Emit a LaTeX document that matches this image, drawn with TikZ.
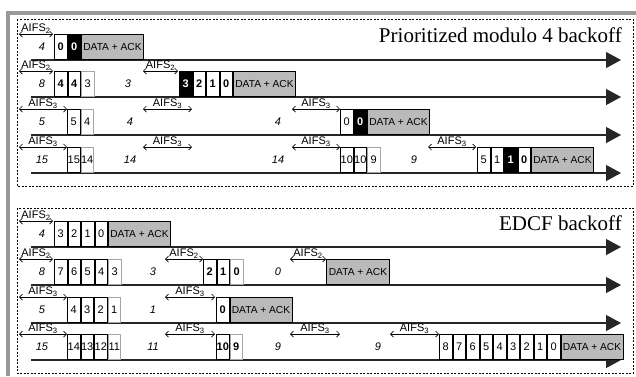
\documentclass[tikz,border=0pt]{standalone}
\usepackage{fontspec}
\setmainfont{Liberation Sans}
\newfontfamily\titlefont{Liberation Serif}
\usetikzlibrary{arrows.meta,positioning}

\begin{document}
\begin{tikzpicture}[x=1pt, y=-1pt,
        slot/.style={draw, line width=1pt, minimum width=12.5pt, minimum height=25pt, inner sep=0pt, anchor=south west, font=\fontsize{11}{11}\selectfont},
        idle/.style={slot, draw=black!35},
        won/.style={slot, font=\fontsize{11}{11}\selectfont\bfseries},
        idlewon/.style={won, draw=black!35},
        frozen/.style={won, fill=black, text=white},
        payload/.style={slot, fill=black!27, minimum width=62pt, font=\fontsize{10.2}{10.2}\selectfont},
        tally/.style={inner sep=0pt, font=\fontsize{11}{11}\selectfont\itshape},
        aifs/.style={{Straight Barb[length=3pt,width=6pt]}-{Straight Barb[length=3pt,width=6pt]}, line width=0.7pt},
        aifslabel/.style={above, inner sep=0.5pt, font=\fontsize{11}{11}\selectfont},
        timeline/.style={-{Triangle[length=15pt,width=16pt]}, line width=1.2pt, black!85},
        panel/.style={draw, dash pattern=on 2pt off 1.5pt, line width=0.7pt},
        paneltitle/.style={anchor=base east, inner sep=0pt, font=\titlefont\fontsize{21}{21}\selectfont}
    ]
        \useasboundingbox (0,0) rectangle (636,376);
        \draw[black!40, line width=4pt] (8,376) -- (8,13) -- (636,13);
        \draw[panel] (17,19) rectangle (633,186);
        \draw[panel] (17,208) rectangle (633,373);
        \node[paneltitle] (ptitle) at (622,42) {Prioritized modulo 4 backoff};
        \node[paneltitle] (etitle) at (622,230) {EDCF backoff};

        % time axes
        \path (31,60) coordinate (p1s) (621,60) coordinate (p1e);
        \path (31,97) coordinate (p2s) (621,97) coordinate (p2e);
        \path (31,135) coordinate (p3s) (621,135) coordinate (p3e);
        \path (31,173) coordinate (p4s) (621,173) coordinate (p4e);
        \path (31,247) coordinate (e1s) (621,247) coordinate (e1e);
        \path (31,285) coordinate (e2s) (621,285) coordinate (e2e);
        \path (31,323) coordinate (e3s) (621,323) coordinate (e3e);
        \path (31,360) coordinate (e4s) (621,360) coordinate (e4e);
        \draw[timeline] (p1s) -- (p1e);
        \draw[timeline] (p2s) -- (p2e);
        \draw[timeline] (p3s) -- (p3e);
        \draw[timeline] (p4s) -- (p4e);
        \draw[timeline] (e1s) -- (e1e);
        \draw[timeline] (e2s) -- (e2e);
        \draw[timeline] (e3s) -- (e3e);
        \draw[timeline] (e4s) -- (e4e);

        % prioritized modulo 4 backoff
        \path (19,34) coordinate (p1al) (53,34) coordinate (p1ar);
        \draw[aifs] (p1al) -- node[aifslabel] {AIFS\textsubscript{2}} (p1ar);
        \node[tally] (p1n) at (42,47) {4};
        \node[won] (p1a) at (54,60) {0};
        \node[frozen, right=0pt of p1a] (p1b) {0};
        \node[payload, right=0pt of p1b] (p1d) {DATA + ACK};

        \path (19,71) coordinate (p2al) (53,71) coordinate (p2ar);
        \draw[aifs] (p2al) -- node[aifslabel] {AIFS\textsubscript{2}} (p2ar);
        \node[tally] (p2n) at (42,84) {8};
        \node[won] (p2a) at (54,97) {4};
        \node[won, right=0pt of p2a] (p2b) {4};
        \node[idle, right=0pt of p2b] (p2c) {3};
        \node[tally] (p2m) at (128,84) {3};
        \path (143,71) coordinate (p2bl) (178,71) coordinate (p2br);
        \draw[aifs] (p2bl) -- node[aifslabel] {AIFS\textsubscript{2}} (p2br);
        \node[frozen] (p2f) at (179,97) {3};
        \node[won, right=0pt of p2f] (p2g) {2};
        \node[won, right=0pt of p2g] (p2h) {1};
        \node[won, right=0pt of p2h] (p2i) {0};
        \node[payload, right=0pt of p2i] (p2d) {DATA + ACK};

        \path (19,109) coordinate (p3al) (67,109) coordinate (p3ar);
        \draw[aifs] (p3al) -- node[aifslabel] {AIFS\textsubscript{3}} (p3ar);
        \node[tally] (p3n) at (42,122) {5};
        \node[slot] (p3a) at (67,135) {5};
        \node[idle, right=0pt of p3a] (p3b) {4};
        \node[tally] (p3m) at (130,122) {4};
        \path (143,109) coordinate (p3bl) (192,109) coordinate (p3br);
        \draw[aifs] (p3bl) -- node[aifslabel] {AIFS\textsubscript{3}} (p3br);
        \node[tally] (p3k) at (278,122) {4};
        \path (292,109) coordinate (p3cl) (340,109) coordinate (p3cr);
        \draw[aifs] (p3cl) -- node[aifslabel] {AIFS\textsubscript{3}} (p3cr);
        \node[slot] (p3f) at (340,135) {0};
        \node[frozen, right=0pt of p3f] (p3g) {0};
        \node[payload, right=0pt of p3g] (p3d) {DATA + ACK};

        \path (19,147) coordinate (p4al) (67,147) coordinate (p4ar);
        \draw[aifs] (p4al) -- node[aifslabel] {AIFS\textsubscript{3}} (p4ar);
        \node[tally] (p4n) at (42,160) {15};
        \node[slot] (p4a) at (67,173) {15};
        \node[idle, right=0pt of p4a] (p4b) {14};
        \node[tally] (p4m) at (130,160) {14};
        \path (143,147) coordinate (p4bl) (192,147) coordinate (p4br);
        \draw[aifs] (p4bl) -- node[aifslabel] {AIFS\textsubscript{3}} (p4br);
        \node[tally] (p4k) at (278,160) {14};
        \path (292,147) coordinate (p4cl) (340,147) coordinate (p4cr);
        \draw[aifs] (p4cl) -- node[aifslabel] {AIFS\textsubscript{3}} (p4cr);
        \node[slot] (p4f) at (340,173) {10};
        \node[slot, right=0pt of p4f] (p4g) {10};
        \node[idle, right=0pt of p4g] (p4h) {9};
        \node[tally] (p4j) at (414,160) {9};
        \path (428,147) coordinate (p4dl) (476,147) coordinate (p4dr);
        \draw[aifs] (p4dl) -- node[aifslabel] {AIFS\textsubscript{3}} (p4dr);
        \node[slot] (p4q) at (477,173) {5};
        \node[slot, right=0pt of p4q] (p4r) {1};
        \node[frozen, right=0pt of p4r] (p4s) {1};
        \node[won, right=0pt of p4s] (p4t) {0};
        \node[payload, right=0pt of p4t] (p4d) {DATA + ACK};

        % EDCF backoff
        \path (19,221) coordinate (e1al) (53,221) coordinate (e1ar);
        \draw[aifs] (e1al) -- node[aifslabel] {AIFS\textsubscript{2}} (e1ar);
        \node[tally] (e1n) at (42,234) {4};
        \node[slot] (e1a) at (54,247) {3};
        \node[slot, right=0pt of e1a] (e1b) {2};
        \node[slot, right=0pt of e1b] (e1c) {1};
        \node[slot, right=0pt of e1c] (e1f) {0};
        \node[payload, right=0pt of e1f] (e1d) {DATA + ACK};

        \path (19,259) coordinate (e2al) (53,259) coordinate (e2ar);
        \draw[aifs] (e2al) -- node[aifslabel] {AIFS\textsubscript{2}} (e2ar);
        \node[tally] (e2n) at (42,272) {8};
        \node[slot] (e2a) at (54,285) {7};
        \node[slot, right=0pt of e2a] (e2b) {6};
        \node[slot, right=0pt of e2b] (e2c) {5};
        \node[slot, right=0pt of e2c] (e2f) {4};
        \node[idle, right=0pt of e2f] (e2g) {3};
        \node[tally] (e2m) at (153,272) {3};
        \path (165,259) coordinate (e2bl) (203,259) coordinate (e2br);
        \draw[aifs] (e2bl) -- node[aifslabel] {AIFS\textsubscript{2}} (e2br);
        \node[won] (e2h) at (203,285) {2};
        \node[won, right=0pt of e2h] (e2i) {1};
        \node[idlewon, right=0pt of e2i] (e2j) {0};
        \node[tally] (e2k) at (278,272) {0};
        \path (290,259) coordinate (e2cl) (326,259) coordinate (e2cr);
        \draw[aifs] (e2cl) -- node[aifslabel] {AIFS\textsubscript{2}} (e2cr);
        \node[payload, minimum width=63pt] (e2d) at (326,285) {DATA + ACK};

        \path (19,297) coordinate (e3al) (67,297) coordinate (e3ar);
        \draw[aifs] (e3al) -- node[aifslabel] {AIFS\textsubscript{3}} (e3ar);
        \node[tally] (e3n) at (42,310) {5};
        \node[slot] (e3a) at (67,323) {4};
        \node[slot, right=0pt of e3a] (e3b) {3};
        \node[slot, right=0pt of e3b] (e3c) {2};
        \node[idle, right=0pt of e3c] (e3f) {1};
        \node[tally] (e3m) at (153,310) {1};
        \path (165,297) coordinate (e3bl) (215,297) coordinate (e3br);
        \draw[aifs] (e3bl) -- node[aifslabel] {AIFS\textsubscript{3}} (e3br);
        \node[won] (e3h) at (216,323) {0};
        \node[payload, right=0pt of e3h] (e3d) {DATA + ACK};

        \path (19,334) coordinate (e4al) (67,334) coordinate (e4ar);
        \draw[aifs] (e4al) -- node[aifslabel] {AIFS\textsubscript{3}} (e4ar);
        \node[tally] (e4n) at (42,347) {15};
        \node[slot] (e4a) at (67,360) {14};
        \node[slot, right=0pt of e4a] (e4b) {13};
        \node[slot, right=0pt of e4b] (e4c) {12};
        \node[idle, right=0pt of e4c] (e4f) {11};
        \node[tally] (e4m) at (153,347) {11};
        \path (165,334) coordinate (e4bl) (215,334) coordinate (e4br);
        \draw[aifs] (e4bl) -- node[aifslabel] {AIFS\textsubscript{3}} (e4br);
        \node[won] (e4h) at (216,360) {10};
        \node[idlewon, right=0pt of e4h] (e4i) {9};
        \node[tally] (e4k) at (278,347) {9};
        \path (290,334) coordinate (e4cl) (340,334) coordinate (e4cr);
        \draw[aifs] (e4cl) -- node[aifslabel] {AIFS\textsubscript{3}} (e4cr);
        \node[tally] (e4j) at (378,347) {9};
        \path (390,334) coordinate (e4dl) (439,334) coordinate (e4dr);
        \draw[aifs] (e4dl) -- node[aifslabel] {AIFS\textsubscript{3}} (e4dr);
        \node[slot] (e4q8) at (439,360) {8};
        \node[slot, right=0pt of e4q8] (e4q7) {7};
        \node[slot, right=0pt of e4q7] (e4q6) {6};
        \node[slot, right=0pt of e4q6] (e4q5) {5};
        \node[slot, right=0pt of e4q5] (e4q4) {4};
        \node[slot, right=0pt of e4q4] (e4q3) {3};
        \node[slot, right=0pt of e4q3] (e4q2) {2};
        \node[slot, right=0pt of e4q2] (e4q1) {1};
        \node[slot, right=0pt of e4q1] (e4q0) {0};
        \node[payload, right=0pt of e4q0] (e4d) {DATA + ACK};
    \end{tikzpicture}
\end{document}
